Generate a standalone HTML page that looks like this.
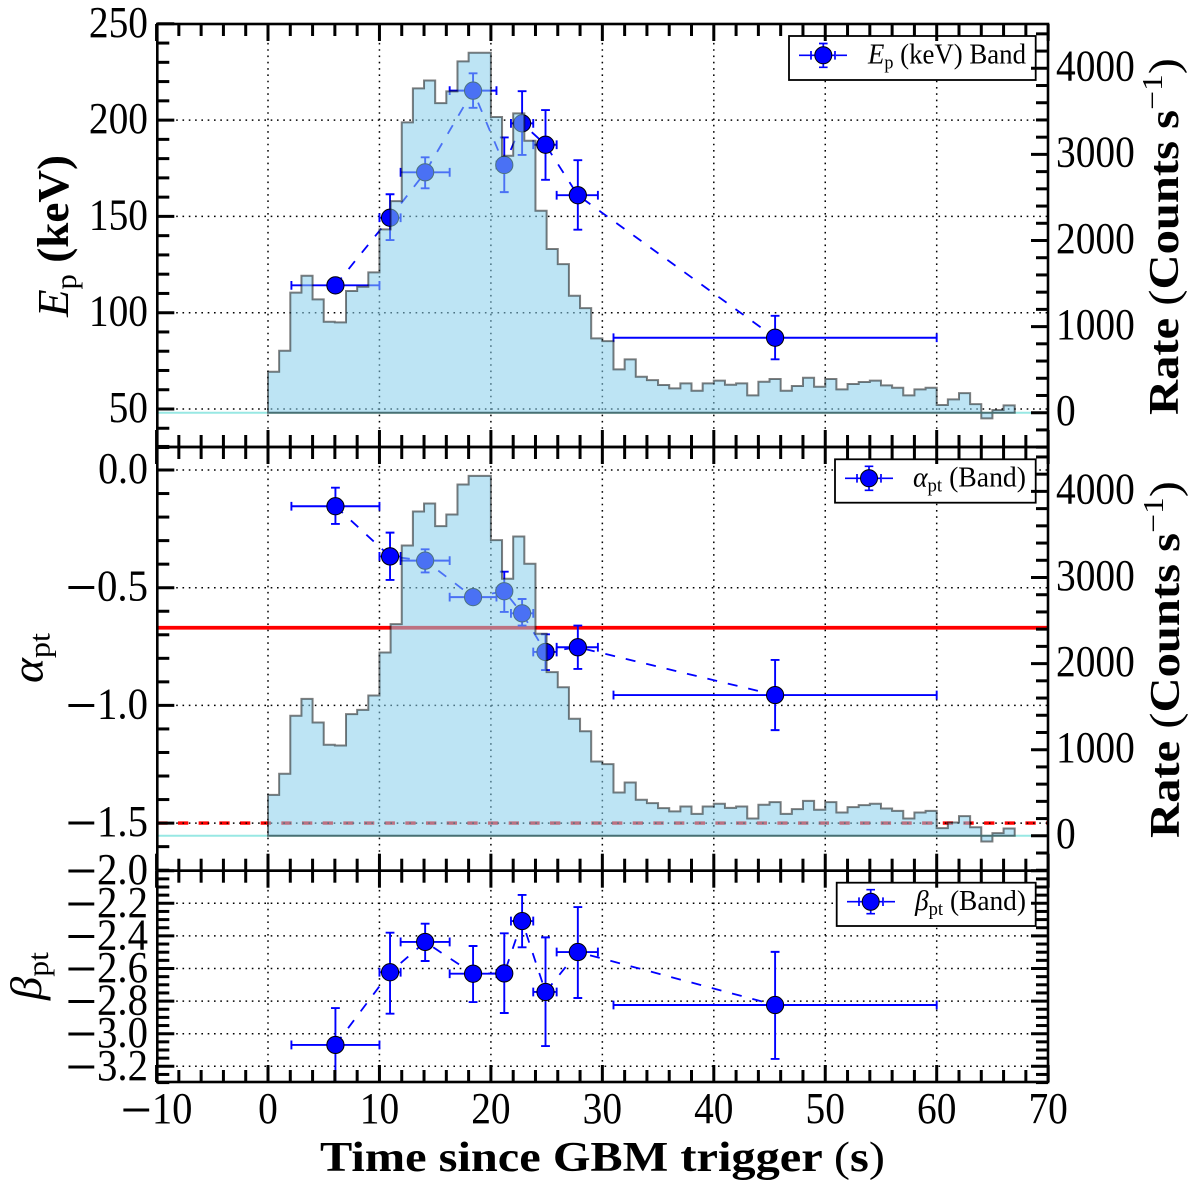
<!DOCTYPE html>
<html lang="en">
<head>
<meta charset="utf-8">
<title>GRB time-resolved spectral parameters</title>
<style>
html,body{margin:0;padding:0;background:#fff;}
svg{display:block;}
text{font-family:"Liberation Serif",serif;fill:#000;}
</style>
</head>
<body>
<svg id="chart" xmlns="http://www.w3.org/2000/svg" width="1200" height="1188" viewBox="0 0 1200 1188">
  <defs>
    <clipPath id="clip-ep"><rect x="157" y="24" width="891" height="423"/></clipPath>
    <clipPath id="clip-alpha"><rect x="157" y="447" width="891" height="424"/></clipPath>
    <clipPath id="clip-beta"><rect x="157" y="871" width="891" height="211"/></clipPath>
  </defs>
  <g id="panel-ep" clip-path="url(#clip-ep)"></g>
  <g id="panel-alpha" clip-path="url(#clip-alpha)"></g>
  <g id="panel-beta" clip-path="url(#clip-beta)"></g>

  <g>
    <rect x="789" y="36" width="246.7" height="44" fill="#fff" stroke="#000" stroke-width="1.8"/>
    <g stroke="#0000ff" stroke-width="1.7" fill="none">
      <path d="M799 55.3H811M836 55.3H847" stroke-width="1.7"/>
      <path d="M811 55.3H835M811 51V59.6M835 51V59.6M823.3 43.5V67.3M819 43.5H827.6M819 67.3H827.6"/>
      <circle cx="823.3" cy="55.3" r="8.5" fill="#0000ff" stroke="#000" stroke-width="1"/>
    </g>
    <text x="868" y="63.3" font-size="28" textLength="158" lengthAdjust="spacingAndGlyphs"><tspan font-style="italic">E</tspan><tspan font-size="19" dy="5">p</tspan><tspan dy="-5"> (keV) Band</tspan></text>
  </g>
  <g>
    <rect x="835" y="459.3" width="200.7" height="43.4" fill="#fff" stroke="#000" stroke-width="1.8"/>
    <g stroke="#0000ff" stroke-width="1.7" fill="none">
      <path d="M845 478.3H857M882 478.3H893"/>
      <path d="M857 478.3H881M857 474V482.6M881 474V482.6M869 466.3V490.3M864.7 466.3H873.3M864.7 490.3H873.3"/>
      <circle cx="869" cy="478.3" r="8.5" fill="#0000ff" stroke="#000" stroke-width="1"/>
    </g>
    <text x="913" y="486.7" font-size="28" textLength="113" lengthAdjust="spacingAndGlyphs"><tspan font-style="italic">α</tspan><tspan font-size="19" dy="5">pt</tspan><tspan dy="-5"> (Band)</tspan></text>
  </g>
  <g>
    <rect x="836.7" y="882.7" width="199" height="43.3" fill="#fff" stroke="#000" stroke-width="1.8"/>
    <g stroke="#0000ff" stroke-width="1.7" fill="none">
      <path d="M847 901.7H859M884 901.7H895"/>
      <path d="M859 901.7H883M859 897.4V906M883 897.4V906M870.7 889.7V913.7M866.4 889.7H875M866.4 913.7H875"/>
      <circle cx="870.7" cy="901.7" r="8.5" fill="#0000ff" stroke="#000" stroke-width="1"/>
    </g>
    <text x="915" y="910" font-size="28" textLength="111" lengthAdjust="spacingAndGlyphs"><tspan font-style="italic">β</tspan><tspan font-size="19" dy="5">pt</tspan><tspan dy="-5"> (Band)</tspan></text>
  </g>

  <g id="axes"></g>
  <g id="labels"></g>

  <text transform="translate(68,317) rotate(-90)" font-size="44" textLength="162" lengthAdjust="spacingAndGlyphs"><tspan font-style="italic">E</tspan><tspan font-size="30" dy="8">p</tspan><tspan dy="-8" font-weight="bold"> (keV)</tspan></text>
  <text transform="translate(42.7,683) rotate(-90)" font-size="44" textLength="50" lengthAdjust="spacingAndGlyphs"><tspan font-style="italic">α</tspan><tspan font-size="30" dy="7">pt</tspan></text>
  <text transform="translate(41,1000) rotate(-90)" font-size="44" textLength="48" lengthAdjust="spacingAndGlyphs"><tspan font-style="italic">β</tspan><tspan font-size="30" dy="7">pt</tspan></text>
  <text transform="translate(1178,415) rotate(-90)" font-size="42" textLength="357" lengthAdjust="spacingAndGlyphs"><tspan font-weight="bold">Rate </tspan><tspan>(</tspan><tspan font-weight="bold">Counts s</tspan><tspan font-size="29" dy="-16">−1</tspan><tspan dy="16">)</tspan></text>
  <text transform="translate(1179,838) rotate(-90)" font-size="42" textLength="357" lengthAdjust="spacingAndGlyphs"><tspan font-weight="bold">Rate </tspan><tspan>(</tspan><tspan font-weight="bold">Counts s</tspan><tspan font-size="29" dy="-16">−1</tspan><tspan dy="16">)</tspan></text>
  <text x="320" y="1171" font-size="42" textLength="565" lengthAdjust="spacingAndGlyphs"><tspan font-weight="bold">Time since GBM trigger </tspan><tspan>(</tspan><tspan font-weight="bold">s</tspan><tspan>)</tspan></text>
</svg>

<script>
// ---- data ----
const timeCenters = [6.05, 10.95, 14.1, 18.4, 21.2, 22.8, 24.9, 27.8, 45.5];
const timeErrLow  = [3.95, 0.95, 2.2, 2.1, 0.7, 1.0, 1.1, 1.9, 14.5];
const timeErrHigh = [3.95, 0.95, 2.2, 2.1, 0.6, 1.0, 1.0, 1.8, 14.5];

const epValues  = [114.2, 149.3, 172.9, 215.3, 176.7, 198.3, 187.2, 161, 87];
const epErrUp   = [3.5, 12.2, 7.8, 9, 14.3, 16.7, 18, 18.2, 11.4];
const epErrDown = [3.5, 11.6, 8.3, 8.9, 14.1, 16.4, 18.2, 17.9, 11.2];

const alphaValues  = [-0.154, -0.367, -0.385, -0.54, -0.515, -0.609, -0.773, -0.753, -0.956];
const alphaErrUp   = [0.079, 0.101, 0.048, 0.025, 0.083, 0.061, 0.075, 0.092, 0.149];
const alphaErrDown = [0.075, 0.1, 0.05, 0.025, 0.088, 0.052, 0.077, 0.092, 0.149];

const betaValues  = [-3.069, -2.623, -2.437, -2.632, -2.63, -2.309, -2.744, -2.499, -2.824];
const betaErrUp   = [0.226, 0.243, 0.112, 0.17, 0.246, 0.16, 0.335, 0.276, 0.326];
const betaErrDown = [0.226, 0.254, 0.117, 0.174, 0.243, 0.161, 0.332, 0.282, 0.331];

const rateValues = [476, 720, 1394, 1591, 1316, 1057, 1049, 1413, 1463, 1630, 2129, 2458, 3372, 3767, 3859, 3596, 3732, 4080, 4181, 4181, 3434, 2985, 3476, 3159, 2346, 1901, 1726, 1359, 1215, 863, 832, 503, 619, 418, 379, 321, 283, 341, 255, 341, 372, 325, 341, 201, 360, 391, 255, 310, 406, 302, 391, 271, 333, 356, 372, 317, 290, 201, 271, 290, 89, 155, 228, 100, -66, 31, 85];

const alphaReferenceSolid = -0.67;
const alphaReferenceDashed = -1.5;

const xTickLabels = [-10, 0, 10, 20, 30, 40, 50, 60, 70];
const epTickLabels = [50, 100, 150, 200, 250];
const alphaTickLabels = [0, -0.5, -1, -1.5];
const betaTickLabels = [-2, -2.2, -2.4, -2.6, -2.8, -3, -3.2];
const rateTickLabels = [0, 1000, 2000, 3000, 4000];

// ---- axis functions ----
const xAxis = t => 268 + t * 11.145;
const epAxis = v => 409 - (v - 50) * 1.926;
const alphaAxis = v => 470 - v * 235.4;
const betaAxis = v => 870.7 - (v + 2) * 163;
const rateAxisUpper = r => 412.7 - r * 0.0861;
const rateAxisLower = r => 835.8 - r * 0.0861;

const LEFT = 157.3, RIGHT = 1048;
const NS = 'http://www.w3.org/2000/svg';

function mk(tag, attrs, parent) {
  const node = document.createElementNS(NS, tag);
  for (const k in attrs) node.setAttribute(k, attrs[k]);
  parent.appendChild(node);
  return node;
}

function drawGrid(group, top, bottom, yAxis, yTicks, name) {
  xTickLabels.slice(1, -1).forEach(t => {
    const line = mk('line', {x1: xAxis(t), x2: xAxis(t), y1: top, y2: bottom, stroke: '#000', 'stroke-width': 1.5, 'stroke-dasharray': '1.6 4.7'}, group);
    
    
  });
  yTicks.forEach(v => {
    const line = mk('line', {x1: LEFT, x2: RIGHT, y1: yAxis(v), y2: yAxis(v), stroke: '#000', 'stroke-width': 1.5, 'stroke-dasharray': '1.6 4.7'}, group);
    
    
  });
}

function drawSeries(group, yAxis, values, errUp, errDown, name) {
  const pts = values.map((v, i) => xAxis(timeCenters[i]) + ',' + yAxis(v)).join(' ');
  const link = mk('polyline', {points: pts, fill: 'none', stroke: '#0000ff', 'stroke-width': 1.8, 'stroke-dasharray': '10 11'}, group);
  
  
  values.forEach((v, i) => {
    const x = xAxis(timeCenters[i]);
    const y = yAxis(v);
    const xl = xAxis(timeCenters[i] - timeErrLow[i]);
    const xr = xAxis(timeCenters[i] + timeErrHigh[i]);
    const yt = yAxis(v + errUp[i]);
    const yb = yAxis(v - errDown[i]);
    const c = 4.4;
    const d = 'M' + xl + ' ' + y + 'H' + xr +
      'M' + xl + ' ' + (y - c) + 'V' + (y + c) +
      'M' + xr + ' ' + (y - c) + 'V' + (y + c) +
      'M' + x + ' ' + yt + 'V' + yb +
      'M' + (x - c) + ' ' + yt + 'H' + (x + c) +
      'M' + (x - c) + ' ' + yb + 'H' + (x + c);
    const bars = mk('path', {d: d, fill: 'none', stroke: '#0000ff', 'stroke-width': 1.9}, group);
    
    
    const dot = mk('circle', {cx: x, cy: y, r: 8.6, fill: '#0000ff', stroke: '#000', 'stroke-width': 1}, group);
    
    
  });
}

function drawRate(group, rateAxis, name) {
  const base = mk('line', {x1: LEFT, x2: RIGHT, y1: rateAxis(0), y2: rateAxis(0), stroke: '#98e8e4', 'stroke-width': 2}, group);
  
  
  let d = 'M' + xAxis(0) + ' ' + rateAxis(0);
  rateValues.forEach((r, i) => {
    d += 'L' + xAxis(i) + ' ' + rateAxis(r) + 'L' + xAxis(i + 1) + ' ' + rateAxis(r);
  });
  d += 'L' + xAxis(rateValues.length) + ' ' + rateAxis(0) + 'Z';
  const hist = mk('path', {d: d, fill: 'rgb(135,206,235)', 'fill-opacity': 0.55, stroke: '#000', 'stroke-opacity': 0.5, 'stroke-width': 2}, group);
  
  
}

const panelEp = document.getElementById('panel-ep');
drawGrid(panelEp, 24, 447, epAxis, epTickLabels.slice(0, 4), 'ep');
drawSeries(panelEp, epAxis, epValues, epErrUp, epErrDown, 'ep');
drawRate(panelEp, rateAxisUpper, 'ep-rate');

const panelAlpha = document.getElementById('panel-alpha');
const solidLine = mk('line', {x1: LEFT, x2: RIGHT, y1: alphaAxis(alphaReferenceSolid), y2: alphaAxis(alphaReferenceSolid), stroke: '#ff0000', 'stroke-width': 3.8}, panelAlpha);


const dashedLine = mk('line', {x1: LEFT, x2: RIGHT, y1: alphaAxis(alphaReferenceDashed), y2: alphaAxis(alphaReferenceDashed), stroke: '#ff0000', 'stroke-width': 3.4, 'stroke-dasharray': '10.3 10.37'}, panelAlpha);


drawGrid(panelAlpha, 447, 871, alphaAxis, alphaTickLabels, 'alpha');
drawSeries(panelAlpha, alphaAxis, alphaValues, alphaErrUp, alphaErrDown, 'alpha');
drawRate(panelAlpha, rateAxisLower, 'alpha-rate');

const panelBeta = document.getElementById('panel-beta');
drawGrid(panelBeta, 871, 1082, betaAxis, betaTickLabels.slice(1), 'beta');
drawSeries(panelBeta, betaAxis, betaValues, betaErrUp, betaErrDown, 'beta');

// ---- axes ----
const axes = document.getElementById('axes');

function tick(x1, y1, x2, y2, name) {
  const line = mk('line', {x1: x1, y1: y1, x2: x2, y2: y2, stroke: '#000', 'stroke-width': 3}, axes);
  
  
}

function drawFrame(top, bottom, name) {
  const frame = mk('rect', {x: LEFT, y: top, width: RIGHT - LEFT, height: bottom - top, fill: 'none', stroke: '#000', 'stroke-width': 2.6}, axes);
  
  
  for (let t = -10; t <= 70; t += 2) {
    const len = t % 10 === 0 ? 17 : 12;
    tick(xAxis(t), top, xAxis(t), top + len, name + '-top-x-tick');
    tick(xAxis(t), bottom, xAxis(t), bottom - len, name + '-bottom-x-tick');
  }
}

drawFrame(24, 447, 'ep-panel');
drawFrame(447, 870.7, 'alpha-panel');
drawFrame(870.7, 1082, 'beta-panel');

for (let v = 30; v <= 250; v += 10) {
  tick(LEFT, epAxis(v), LEFT + (v % 50 === 0 ? 17 : 12), epAxis(v), 'ep-y-tick');
}
for (let i = -17; i <= 1; i++) {
  tick(LEFT, alphaAxis(i / 10), LEFT + (i % 5 === 0 ? 17 : 12), alphaAxis(i / 10), 'alpha-y-tick');
}
for (let i = -66; i <= -40; i++) {
  const v = i / 20;
  const len = i % 4 === 0 ? 17 : 12;
  tick(LEFT, betaAxis(v), LEFT + len, betaAxis(v), 'beta-left-y-tick');
  tick(RIGHT, betaAxis(v), RIGHT - len, betaAxis(v), 'beta-right-y-tick');
}
for (let r = -400; r <= 4400; r += 200) {
  const len = r % 1000 === 0 ? 17 : 12;
  tick(RIGHT, rateAxisUpper(r), RIGHT - len, rateAxisUpper(r), 'rate-upper-y-tick');
  tick(RIGHT, rateAxisLower(r), RIGHT - len, rateAxisLower(r), 'rate-lower-y-tick');
}

// ---- tick labels ----
const labels = document.getElementById('labels');

function label(str, x, y, anchor, name) {
  const negative = str.charAt(0) === '-';
  const body = negative ? str.slice(1) : str;
  const digits = body.replace('.', '').length;
  const width = digits * 19.7 + (body.indexOf('.') >= 0 ? 10.5 : 0) + (negative ? 32.5 : 0);
  const text = mk('text', {x: x, y: y, 'font-size': 44, 'text-anchor': anchor, textLength: width, lengthAdjust: 'spacingAndGlyphs'}, labels);
  
  
  if (negative) {
    const minus = mk('tspan', {'font-size': 60, dy: 7}, text);
    minus.textContent = '\u2212';
    const rest = mk('tspan', {dy: -7}, text);
    rest.textContent = body;
  } else {
    const rest = mk('tspan', {}, text);
    rest.textContent = body;
  }
}

xTickLabels.forEach(t => label(String(t), xAxis(t), 1123, 'middle', 'x-tick-label'));
epTickLabels.forEach(v => label(String(v), 148, epAxis(v) + 13, 'end', 'ep-tick-label'));
alphaTickLabels.forEach(v => label(v.toFixed(1), 148, alphaAxis(v) + 13, 'end', 'alpha-tick-label'));
betaTickLabels.forEach(v => label(v.toFixed(1), 148, betaAxis(v) + 13.5, 'end', 'beta-tick-label'));
rateTickLabels.forEach(r => {
  label(String(r), 1056, rateAxisUpper(r) + 12.3, 'start', 'rate-upper-tick-label');
  label(String(r), 1056, rateAxisLower(r) + 12.3, 'start', 'rate-lower-tick-label');
});
</script>
</body>
</html>
